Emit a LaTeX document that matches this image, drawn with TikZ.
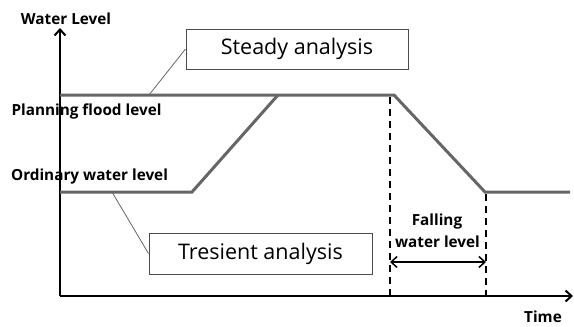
\documentclass[tikz,border=0pt]{standalone}
\usepackage{fontspec}
\setmainfont{Open Sans}
\usetikzlibrary{arrows.meta}
\begin{document}
\begin{tikzpicture}[x=1pt,y=-1pt,
  axis/.style={line width=2pt,black},
  level/.style={line width=3pt,black!60,line join=miter},
  leader/.style={line width=0.8pt,black!60},
  dashline/.style={line width=1.5pt,black,dash pattern=on 7pt off 5pt},
  boxlabel/.style={draw=black!70,line width=1pt,fill=white,font=\fontsize{21.5}{24}\selectfont,inner sep=0pt},
  lbl/.style={font=\bfseries\fontsize{15.3}{17}\selectfont,inner sep=0pt}]
\useasboundingbox (0,0) rectangle (574,327);
% coordinates
\coordinate (O) at (60,296);
\coordinate (ytip) at (60,28);
\coordinate (xtip) at (573,296);
\coordinate (o0) at (60,192);
\coordinate (o1) at (192,192);
\coordinate (p0) at (60,95);
\coordinate (p1) at (278,95);
\coordinate (p2) at (394,95);
\coordinate (f1) at (485,192);
\coordinate (f2) at (570,192);
\coordinate (d1t) at (390,97);
\coordinate (d1b) at (390,296);
\coordinate (d2t) at (486,194);
\coordinate (d2b) at (486,296);
\coordinate (aL) at (390,262);
\coordinate (aR) at (486,262);
\coordinate (sl) at (149,95);
\coordinate (tl) at (112,192);
% axes
\draw[axis,-{Straight Barb[length=6pt,width=11pt,line width=2pt]}] (O) -- (ytip);
\draw[axis,-{Straight Barb[length=6pt,width=11pt,line width=2pt]}] (O) -- (xtip);
% levels
\draw[level] (p0) -- (p2) -- (f1) -- (f2);
\draw[level] (o0) -- (o1) -- (p1);
% dashed
\draw[dashline] (d1t) -- (d1b);
\draw[dashline] (d2t) -- (d2b);
\draw[line width=1.5pt,{Straight Barb[length=6pt,width=11pt,line width=1.5pt]}-{Straight Barb[length=6pt,width=11pt,line width=1.5pt]}] (aL) -- (aR);
% boxes
\node[boxlabel,minimum width=222pt,minimum height=40pt] (steady) at (297,49) {Steady analysis};
\node[boxlabel,minimum width=223pt,minimum height=41pt] (tres) at (260.5,253.5) {Tresient analysis};
\draw[leader] (sl) -- (steady.west);
\draw[leader] (tl) -- (tres.west);
% labels
\node[lbl] (wl) at (66,19) {Water Level};
\node[lbl] (pfl) at (86.5,111) {Planning flood level};
\node[lbl] (owl) at (89.5,177) {Ordinary water level};
\node[lbl] (fall) at (437,222) {Falling};
\node[lbl] (fwl) at (437.5,242) {water level};
\node[lbl] (time) at (543,317) {Time};
\end{tikzpicture}
\end{document}
